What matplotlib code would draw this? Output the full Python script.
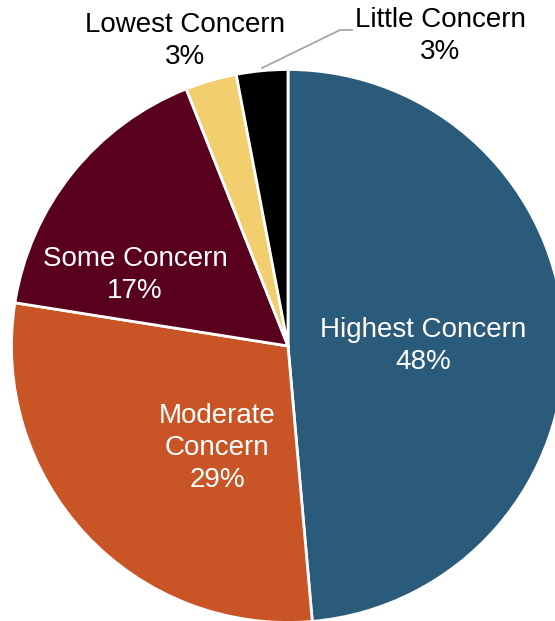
import matplotlib.pyplot as plt

plt.rcParams['font.family'] = ['Liberation Sans', 'DejaVu Sans']

categories = ["Highest Concern", "Moderate Concern", "Some Concern", "Lowest Concern", "Little Concern"]
values = [48.6, 28.9, 16.5, 3.0, 3.0]
pct_labels = ["48%", "29%", "17%", "3%", "3%"]
colors = ["#2B5B7A", "#C95426", "#5A001F", "#F2CE6F", "#000000"]

W, H = 555, 621
fig = plt.figure(figsize=(W / 100, H / 100), dpi=100)
ax = fig.add_axes([0, 0, 1, 1])

ax.pie(values, colors=colors, startangle=90, counterclock=False,
       center=(288, H - 346), radius=276.5, frame=True,
       wedgeprops=dict(edgecolor="white", linewidth=2))
ax.set_xlim(0, W)
ax.set_ylim(0, H)
ax.set_aspect("equal")
ax.axis("off")

# label placement (pixel coords from top-left)
label_pos = [(423, 346), (217, 448), (135, 275), (185, 41), (440, 36)]
label_txt = ["Highest Concern", "Moderate\nConcern", "Some Concern", "Lowest Concern", "Little Concern"]
text_col = ["white", "white", "white", "black", "black"]
for (x, y), t, p, c in zip(label_pos, label_txt, pct_labels, text_col):
    ax.text(x, H - y, t + "\n" + p, ha="center", va="center", fontsize=20,
            color=c, linespacing=1.3)

# leader line for Little Concern
ax.plot([262, 340, 352], [H - 68, H - 30, H - 30], color="#A6A6A6", lw=1.3)

fig.savefig("out.png", dpi=100)
